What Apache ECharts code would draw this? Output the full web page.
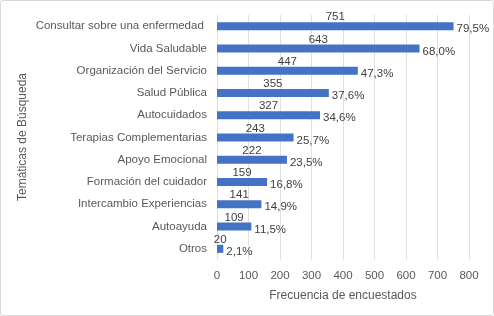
<!DOCTYPE html>
<html>
<head>
<meta charset="utf-8">
<script src="https://cdn.jsdelivr.net/npm/echarts@6/dist/echarts.min.js"></script>
<style>
  html, body { margin: 0; padding: 0; background: #fff; }
  #chart {
    width: 492px;
    height: 314px;
    border: 1px solid #d9d9d9;
    border-radius: 3px;
  }
</style>
</head>
<body>
<div id="chart"></div>
<script>
const categories = [
  "Consultar sobre una enfermedad ",
  "Vida Saludable",
  "Organización del Servicio",
  "Salud Pública",
  "Autocuidados",
  "Terapias Complementarias",
  "Apoyo Emocional",
  "Formación del cuidador",
  "Intercambio Experiencias",
  "Autoayuda",
  "Otros"
];
const counts = [751, 643, 447, 355, 327, 243, 222, 159, 141, 109, 20];
const percents = ["79,5%", "68,0%", "47,3%", "37,6%", "34,6%", "25,7%", "23,5%", "16,8%", "14,9%", "11,5%", "2,1%"];
const xTicks = [0, 100, 200, 300, 400, 500, 600, 700, 800];

const chart = echarts.init(document.getElementById("chart"));
const font = "Liberation Sans, Arial, sans-serif";
const fs = 11.5;

let option = {
  animation: false,
  textStyle: { fontFamily: font },
  grid: {
    left: 216,
    right: 24,
    top: 14,
    bottom: 55
  },
  // y axis title placed by hand, the axis name kept getting pushed left
  graphic: [
    {
      type: "text",
      x: 22,
      y: 136,
      rotation: Math.PI / 2,
      style: {
        text: "Temáticas de Búsqueda",
        fill: "#595959",
        font: "12px " + font,
        align: "center",
        verticalAlign: "middle"
      }
    }
  ],
  xAxis: {
    type: "value",
    min: xTicks[0],
    max: xTicks[xTicks.length - 1],
    interval: 100,
    name: "Frecuencia de encuestados",
    nameLocation: "middle",
    nameGap: 30,
    nameTextStyle: { color: "#595959", fontSize: 12, fontFamily: font },
    axisLine: { show: false },
    axisTick: { show: false },
    axisLabel: { color: "#595959", fontSize: fs, margin: 10, fontFamily: font },
    splitLine: { show: true, lineStyle: { color: "#e0e0e0", width: 1 } }
  },
  yAxis: {
    type: "category",
    inverse: true,
    data: categories,
    axisLine: { show: false },
    axisTick: { show: false },
    axisLabel: { color: "#595959", fontSize: fs, margin: 10, fontFamily: font }
  },
  series: [
    {
      name: "Frecuencia",
      type: "bar",
      data: counts,
      barWidth: 8,
      itemStyle: { color: "#4472C4" },
      label: {
        show: true,
        position: "top",
        distance: -1,
        color: "#404040",
        fontSize: fs,
        fontFamily: font
      },
      z: 3
    },
    {
      name: "Porcentaje",
      type: "bar",
      data: counts,
      barWidth: 8,
      barGap: "-100%",
      itemStyle: { color: "transparent" },
      label: {
        show: true,
        position: "right",
        distance: 3,
        offset: [0, 3],
        color: "#404040",
        fontSize: fs,
        fontFamily: font,
        formatter: p => percents[p.dataIndex]
      },
      z: 2
    }
  ]
};

chart.setOption(option);
</script>
</body>
</html>
